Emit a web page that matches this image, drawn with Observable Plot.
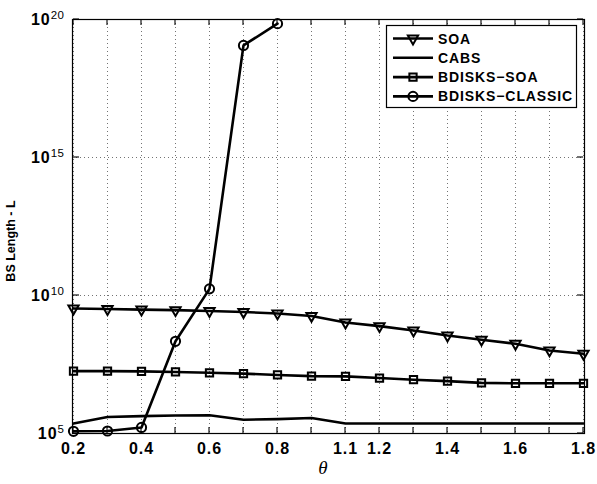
<!DOCTYPE html>
<html><head><meta charset="utf-8">
<script src="https://cdn.jsdelivr.net/npm/d3@7"></script>
<script src="https://cdn.jsdelivr.net/npm/@observablehq/plot@0.6"></script>
<style>
body{margin:0;background:#fff}
#chart{position:relative;width:597px;height:484px}
#chart svg{display:block}
</style>
</head><body><div id="chart"></div>
<script>
// x categories (θ) – plotted equally spaced, 1.0 is absent
const theta = ["0.2","0.3","0.4","0.5","0.6","0.7","0.8","0.9","1.1","1.2","1.3","1.4","1.5","1.6","1.7","1.8"];
const labeledTheta = ["0.2","0.4","0.6","0.8","1.1","1.2","1.4","1.6","1.8"];
const yTicks = [1e5, 1e10, 1e15, 1e20];
const gridYValues = [1e10, 1e15];

const soa = [3.39e9,3.24e9,3.09e9,2.95e9,2.75e9,2.51e9,2.24e9,1.82e9,1.05e9,7.76e8,5.37e8,3.55e8,2.51e8,1.78e8,1.02e8,7.76e7];
const cabs = [2.29e5,3.98e5,4.27e5,4.47e5,4.57e5,3.16e5,3.31e5,3.63e5,2.29e5,2.29e5,2.29e5,2.29e5,2.29e5,2.29e5,2.29e5,2.29e5];
const bdisksSoa = [1.82e7,1.82e7,1.78e7,1.70e7,1.58e7,1.48e7,1.32e7,1.20e7,1.17e7,1.02e7,8.9e6,7.9e6,6.8e6,6.6e6,6.6e6,6.6e6];
const bdisksClassic = [1.2e5,1.23e5,1.66e5,2.19e8,1.74e10,1.15e19,7.08e19];

const seriesNames = ["SOA","CABS","BDISKS\u2212SOA","BDISKS\u2212CLASSIC"];

const rows = (vals) => vals.map((v, i) => ({theta: theta[i], value: v}));
const soaRows = rows(soa), cabsRows = rows(cabs), bsRows = rows(bdisksSoa), bcRows = rows(bdisksClassic);

const W = 597, H = 484, ML = 72, MR = 13, MT = 19, MB = 51;
const TS = 6;

const lineOpts = {x: "theta", y: "value", stroke: "#000", strokeWidth: 2.6};
const dotBase = {x: "theta", y: "value", stroke: "#000", strokeWidth: 2, fill: "none"};
const triR = 3.8, sqR = 4.1, cirR = 4.6;

const plot = Plot.plot({
  width: W, height: H,
  marginLeft: ML, marginRight: MR, marginTop: MT, marginBottom: MB,
  style: {fontFamily: "'Liberation Sans', Arial, sans-serif", background: "white", overflow: "visible"},
  x: {type: "point", domain: theta, padding: 0},
  y: {type: "log", domain: [1e5, 1e20]},
  marks: [
    Plot.gridX(theta, {stroke: "#000", strokeOpacity: 0.55, strokeDasharray: "1,3", strokeWidth: 1}),
    Plot.gridY(gridYValues, {stroke: "#000", strokeOpacity: 0.55, strokeDasharray: "1,3", strokeWidth: 1}),
    Plot.axisX({anchor: "bottom", ticks: theta, tickSize: 0, tickPadding: 9, label: null,
      tickFormat: d => labeledTheta.includes(d) ? d : "", fontSize: 16, fontWeight: "bold"}),
    Plot.axisY({anchor: "left", ticks: yTicks, tickSize: 0, tickPadding: 8, label: null,
      tickFormat: d => "10^" + Math.round(Math.log10(d)), fontSize: 16, fontWeight: "bold"}),
    Plot.frame({stroke: "#000", strokeWidth: 1.2}),
    Plot.line(cabsRows, lineOpts),
    Plot.line(bsRows, lineOpts),
    Plot.line(soaRows, lineOpts),
    Plot.line(bcRows, lineOpts),
    Plot.dot(bsRows, {...dotBase, symbol: "square", r: sqR}),
    Plot.dot(soaRows, {...dotBase, symbol: "triangle", rotate: 180, r: triR}),
    Plot.dot(bcRows, {...dotBase, symbol: "circle", r: cirR})
  ]
});
document.getElementById("chart").appendChild(plot);

const svg = d3.select(plot);
const xs = plot.scale("x"), ys = plot.scale("y");
// inward tick marks on all four sides (MATLAB style), positioned by the plot's own scales
const tg = svg.insert("g", 'g[aria-label="line"]').attr("stroke", "#000").attr("stroke-width", 1.1);
const yBot = ys.apply(yTicks[0]), yTop = ys.apply(yTicks[yTicks.length - 1]);
const xL = xs.apply(theta[0]), xR = xs.apply(theta[theta.length - 1]);
theta.forEach(t => {
  const x = xs.apply(t);
  tg.append("line").attr("x1", x).attr("x2", x).attr("y1", yBot).attr("y2", yBot - TS);
  tg.append("line").attr("x1", x).attr("x2", x).attr("y1", yTop).attr("y2", yTop + TS);
});
yTicks.forEach(v => {
  const y = ys.apply(v);
  tg.append("line").attr("x1", xL).attr("x2", xL + TS).attr("y1", y).attr("y2", y);
  tg.append("line").attr("x1", xR).attr("x2", xR - TS).attr("y1", y).attr("y2", y);
});

svg.selectAll('g[aria-label="x-axis tick label"] text').attr("letter-spacing", "1");
svg.selectAll('g[aria-label="y-axis tick label"] text').each(function() {
  const t = this.textContent;
  if (!t.includes("^")) return;
  const [base, exp] = t.split("^");
  const sel = d3.select(this);
  sel.text(null).attr("letter-spacing", "1");
  sel.append("tspan").text(base);
  sel.append("tspan").attr("dy", "-0.45em").attr("font-size", "11.5").attr("font-weight", "normal").attr("letter-spacing", "0.5").text(exp);
});

// axis titles
svg.append("text").attr("transform", "translate(15,241) rotate(-90)")
  .attr("text-anchor", "middle").attr("font-weight", "bold").attr("font-size", 12.5)
  .attr("font-family", "'Liberation Sans', Arial, sans-serif").text("BS Length - L");
svg.append("text").attr("x", 323).attr("y", 474).attr("text-anchor", "middle")
  .attr("font-style", "italic").attr("font-size", 19)
  .attr("font-family", "'Liberation Serif', 'Times New Roman', serif").text("\u03b8");

// legend
const lg = svg.append("g").attr("font-family", "'Liberation Sans', Arial, sans-serif").attr("text-anchor", "start");
lg.append("rect").attr("x", 386.5).attr("y", 25.5).attr("width", 190).attr("height", 82)
  .attr("fill", "white").attr("stroke", "#000").attr("stroke-width", 1.2);
const symbols = [
  {type: d3.symbolTriangle, r: triR, rot: 180},
  null,
  {type: d3.symbolSquare, r: sqR, rot: 0},
  {type: d3.symbolCircle, r: cirR, rot: 0}
];
seriesNames.forEach((name, i) => {
  const y = 38.5 + i * 19.3;
  lg.append("line").attr("x1", 393).attr("x2", 433).attr("y1", y).attr("y2", y)
    .attr("stroke", "#000").attr("stroke-width", 2.6);
  const s = symbols[i];
  if (s) {
    lg.append("path").attr("d", d3.symbol(s.type, Math.PI * s.r * s.r)())
      .attr("transform", `translate(413,${y}) rotate(${s.rot})`)
      .attr("fill", "none").attr("stroke", "#000").attr("stroke-width", 2);
  }
  lg.append("text").attr("x", 438).attr("y", y).attr("dy", "0.36em").attr("text-anchor", "start")
    .attr("font-weight", "bold").attr("font-size", 14).attr("letter-spacing", "0.9").text(name);
});
</script>
</body></html>
